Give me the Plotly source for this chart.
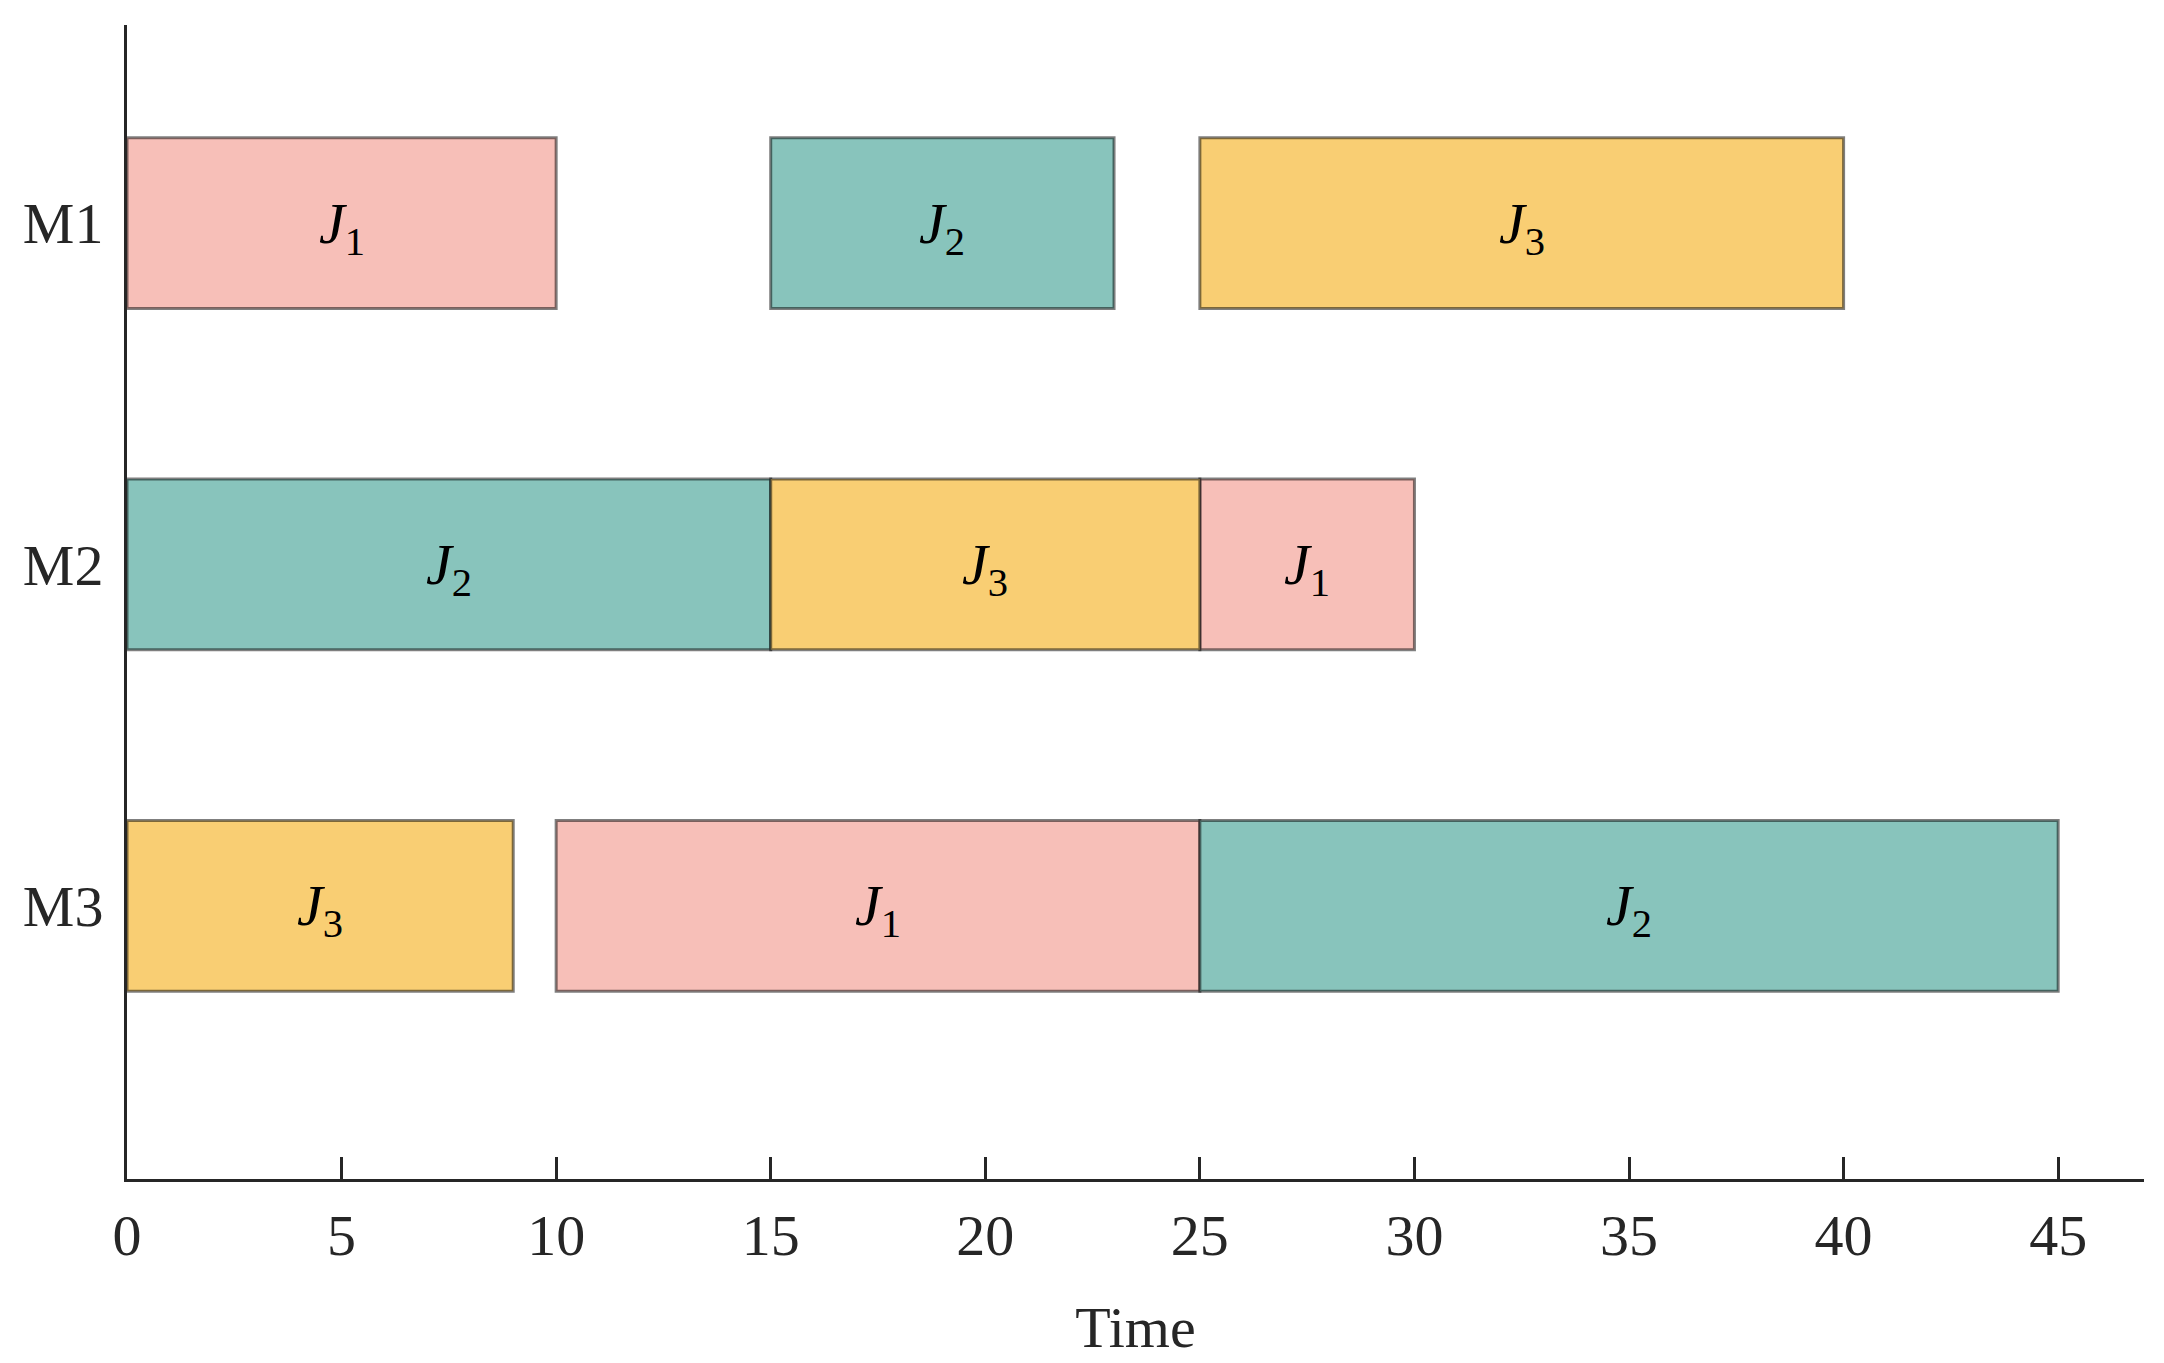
import plotly.graph_objects as go

# Data
machines = ["M1", "M2", "M3"]
jobs = ["J1", "J2", "J3"]
job_colors = {"J1": "#F7BFB8", "J2": "#88C4BC", "J3": "#F9CE73"}

# tasks: machine, job, start, duration
task_machine = ["M1", "M1", "M1", "M2", "M2", "M2", "M3", "M3", "M3"]
task_job = ["J1", "J2", "J3", "J2", "J3", "J1", "J3", "J1", "J2"]
task_start = [0, 15, 25, 0, 15, 25, 0, 10, 25]
task_duration = [10, 8, 15, 15, 10, 5, 9, 15, 20]

x_ticks = [0, 5, 10, 15, 20, 25, 30, 35, 40, 45]

FONT = "Liberation Serif"
ypos = {m: i + 1 for i, m in enumerate(machines)}

fig = go.Figure()
for job in jobs:
    idx = [i for i, j in enumerate(task_job) if j == job]
    fig.add_trace(go.Bar(
        orientation="h",
        y=[ypos[task_machine[i]] for i in idx],
        x=[task_duration[i] for i in idx],
        base=[task_start[i] for i in idx],
        width=0.5,
        marker=dict(color=job_colors[job], line=dict(color="rgba(0,0,0,0.5)", width=3)),
        name=job,
        showlegend=False,
        hoverinfo="skip",
    ))

for i in range(len(task_job)):
    num = task_job[i][1:]
    fig.add_annotation(
        x=task_start[i] + task_duration[i] / 2,
        y=ypos[task_machine[i]],
        text=f"<i>J</i><sub>{num}</sub>",
        showarrow=False,
        font=dict(family=FONT, size=58, color="#000000"),
        xanchor="center", yanchor="middle",
        yshift=-4,
    )

fig.update_layout(
    width=2156, height=1355,
    margin=dict(l=119, r=20, t=17, b=184),
    paper_bgcolor="white", plot_bgcolor="white",
    barmode="overlay",
    font=dict(family=FONT, size=58, color="#262626"),
)
fig.update_xaxes(
    range=[0, 47], tickvals=x_ticks, ticktext=[str(t) for t in x_ticks],
    showline=True, linecolor="#262626", linewidth=3,
    ticks="inside", ticklen=22, tickwidth=3, tickcolor="#262626",
    ticklabelstandoff=3,
    showgrid=False, zeroline=False,
    title=dict(text="Time", font=dict(family=FONT, size=58, color="#262626"), standoff=40),
    tickfont=dict(family=FONT, size=58, color="#262626"),
)
fig.update_yaxes(
    range=[3.8, 0.42], tickvals=[1, 2, 3], ticktext=machines,
    showline=True, linecolor="#262626", linewidth=3,
    ticks="", showgrid=False, zeroline=False,
    ticklabelstandoff=9,
    tickfont=dict(family=FONT, size=58, color="#262626"),
)

fig.write_html("out.html")
